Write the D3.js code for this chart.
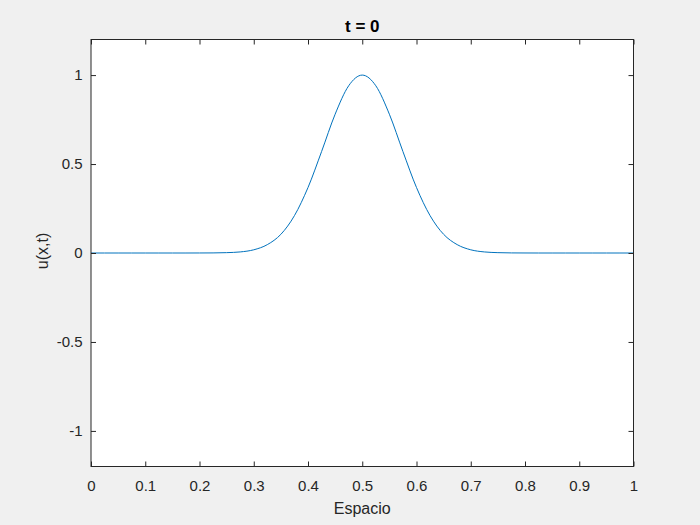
<!DOCTYPE html>
<html>
<head>
<meta charset="utf-8">
<script src="https://cdn.jsdelivr.net/npm/d3@7"></script>
<style>
  body { margin: 0; background: #f0f0f0; }
  svg { display: block; font-family: "Liberation Sans", Arial, sans-serif; }
</style>
</head>
<body>
<div id="chart"></div>
<script>
// values
var xs = [0, 0.025, 0.05, 0.075, 0.1, 0.125, 0.15, 0.175, 0.2, 0.225, 0.25, 0.275,
  0.3, 0.325, 0.35, 0.375, 0.4, 0.425, 0.45, 0.475, 0.5, 0.525, 0.55, 0.575, 0.6,
  0.625, 0.65, 0.675, 0.7, 0.725, 0.75, 0.775, 0.8, 0.825, 0.85, 0.875, 0.9, 0.925,
  0.95, 0.975, 1];
var us = [0, 0, 0, 0, 0, 0, 0, 0, 0.0001, 0.0005, 0.002, 0.006,
  0.018, 0.047, 0.105, 0.21, 0.368, 0.57, 0.78, 0.94, 1, 0.94, 0.78, 0.57, 0.368,
  0.21, 0.105, 0.047, 0.018, 0.006, 0.002, 0.0005, 0.0001, 0, 0, 0, 0, 0,
  0, 0, 0];
var xTicks = [0, 0.1, 0.2, 0.3, 0.4, 0.5, 0.6, 0.7, 0.8, 0.9, 1];
var yTicks = [-1, -0.5, 0, 0.5, 1];

var svgWidth = 700, svgHeight = 525;
var margin = { top: 39.5, right: 66.5, bottom: 58.5, left: 91 };
var width = svgWidth - margin.left - margin.right;
var height = svgHeight - margin.top - margin.bottom;
var ink = "#262626";

var svg = d3.select("#chart").append("svg")
  .attr("width", svgWidth)
  .attr("height", svgHeight);

var g = svg.append("g")
  .attr("transform", `translate(${margin.left}, ${margin.top})`);

var x = d3.scaleLinear().domain([0, 1]).range([0, width]);
var y = d3.scaleLinear().domain([-1.2, 1.2]).range([height, 0]);

g.append("rect")
  .attr("width", width).attr("height", height)
  .attr("fill", "#fff");

// data line
var data = xs.map((v, i) => ({ x: v, u: us[i] }));
g.append("path")
  .datum(data)
  .attr("fill", "none")
  .attr("stroke", "#0072BD")
  .attr("stroke-width", 1)
  .attr("d", d3.line().x(d => x(d.x)).y(d => y(d.u)).curve(d3.curveMonotoneX));

// axes, ticks pointing inward (MATLAB box style)
function styleAxis(sel) {
  sel.select(".domain").remove();
  sel.selectAll(".tick line").attr("stroke", ink);
  sel.selectAll(".tick text").attr("fill", ink).style("font-size", "15px");
}

// plain hyphen for negatives, like the original
var fmt = d => String(d);

g.append("g")
  .attr("transform", `translate(0, ${height})`)
  .call(d3.axisBottom(x).tickValues(xTicks).tickFormat(fmt).tickSizeInner(-5).tickPadding(13.5))
  .call(styleAxis);

g.append("g")
  .call(d3.axisTop(x).tickValues(xTicks).tickSizeInner(-5).tickFormat(""))
  .call(styleAxis);

g.append("g")
  .call(d3.axisLeft(y).tickValues(yTicks).tickFormat(fmt).tickSizeInner(-5).tickPadding(8.5))
  .call(styleAxis);

g.append("g")
  .attr("transform", `translate(${width}, 0)`)
  .call(d3.axisRight(y).tickValues(yTicks).tickSizeInner(-5).tickFormat(""))
  .call(styleAxis);

g.append("rect")
  .attr("width", width).attr("height", height)
  .attr("fill", "none")
  .attr("stroke", ink)
  .attr("stroke-width", 1);

// title and labels
g.append("text")
  .attr("x", width / 2).attr("y", -8)
  .attr("text-anchor", "middle")
  .attr("fill", "#000")
  .style("font-size", "17px").style("font-weight", "bold")
  .text("t = 0");

g.append("text")
  .attr("x", width / 2).attr("y", height + 47.5)
  .attr("text-anchor", "middle")
  .attr("fill", ink)
  .style("font-size", "16px")
  .text("Espacio");

g.append("text")
  .attr("transform", "rotate(-90)")
  .attr("x", -y(0) + 2).attr("y", -43)
  .attr("text-anchor", "middle")
  .attr("fill", ink)
  .style("font-size", "16px")
  .text("u(x,t)");
</script>
</body>
</html>
